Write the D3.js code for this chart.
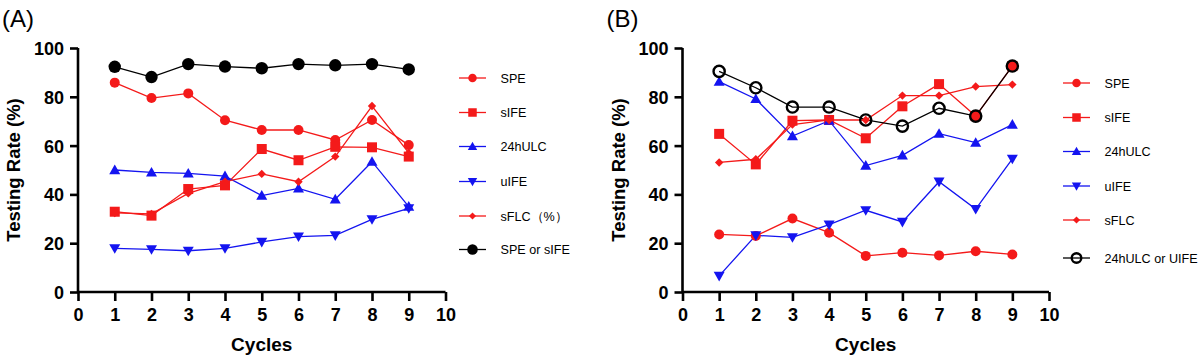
<!DOCTYPE html>
<html><head><meta charset="utf-8">
<script src="https://cdn.jsdelivr.net/npm/d3@7"></script>
<style>body{margin:0;background:#fff}svg{display:block}text{font-family:"Liberation Sans",Arial,sans-serif}</style>
</head><body>
<svg id="c" width="1201" height="359"></svg>
<script>
const cycles = [1,2,3,4,5,6,7,8,9];
const xTicks = [0,1,2,3,4,5,6,7,8,9,10];
const yTicks = [0,20,40,60,80,100];

// Panel A
const A_SPE      = [85.8,79.5,81.4,70.4,66.4,66.4,62.3,70.5,60.2];
const A_sIFE     = [32.9,31.3,42.2,43.7,58.6,54.0,59.5,59.3,55.5];
const A_24hULC   = [50.0,49.0,48.6,47.5,39.5,42.5,38.0,53.4,35.0];
const A_uIFE     = [17.9,17.5,16.9,17.9,20.5,22.7,23.2,29.8,34.3];
const A_sFLC     = [32.4,32.0,40.4,45.2,48.4,45.2,55.5,76.2,57.0];
const A_SPEorsIFE= [92.3,88.1,93.4,92.4,91.7,93.4,92.9,93.4,91.2];

// Panel B
const B_SPE      = [23.6,23.0,30.1,24.3,14.8,16.1,15.0,16.7,15.4];
const B_sIFE     = [64.8,52.3,70.2,70.5,63.0,76.1,85.2,72.1,92.6];
const B_24hULC   = [86.2,79.1,63.9,70.2,51.8,56.0,64.9,61.2,68.6];
const B_uIFE     = [6.6,23.2,22.4,27.6,33.5,28.7,45.2,34.0,54.6];
const B_sFLC     = [53.1,54.4,68.6,70.5,70.5,80.5,80.5,84.2,85.0];
const B_24orUIFE = [90.4,83.7,75.8,75.8,70.5,68.0,75.3,72.1,92.6];

const RED="#f41a1a", BLUE="#1414f0", BLACK="#000";

const svg=d3.select("#c");

function panel(cfg){
  const g=svg.append("g");
  const x=d3.scaleLinear().domain([0,10]).range([cfg.x0,cfg.x1]);
  const y=d3.scaleLinear().domain([0,100]).range([292,48]);
  const ya=g.append("g").attr("transform",`translate(${cfg.x0},0)`)
    .call(d3.axisLeft(y).tickValues(yTicks).tickSize(8).tickPadding(6));
  const xa=g.append("g").attr("transform",`translate(0,292)`)
    .call(d3.axisBottom(x).tickValues(xTicks).tickSize(9).tickPadding(6));
  [ya,xa].forEach(a=>{
    a.select(".domain").attr("stroke","#000").attr("stroke-width",2.6)
      .attr("d", a===ya ? `M0,${y(100)}V${y(0)}` : `M${x(0)},0H${x(10)}`);
    a.selectAll(".tick line").attr("stroke","#000").attr("stroke-width",2.6);
    a.selectAll(".tick text").attr("fill","#000").attr("font-size",18).attr("font-weight","bold")
      .attr("font-family","'Liberation Sans',Arial,sans-serif");
  });
  ya.selectAll(".tick text").attr("dy","0.36em");
  xa.selectAll(".tick text").attr("dy","0.8em");
  g.append("text").attr("x",(cfg.x0+cfg.x1)/2).attr("y",351).attr("text-anchor","middle")
    .attr("font-size",19).attr("font-weight","bold").text("Cycles");
  g.append("text").attr("transform",`translate(${cfg.x0-58},170) rotate(-90)`).attr("text-anchor","middle")
    .attr("font-size",18.5).attr("font-weight","bold").text("Testing Rate (%)");
  g.append("text").attr("x",cfg.x0-76).attr("y",27).attr("font-size",24).text(cfg.label);

  const line=d3.line().x((d,i)=>x(cycles[i])).y(d=>y(d));
  cfg.series.forEach(s=>{
    g.append("path").attr("d",line(s.v)).attr("fill","none").attr("stroke",s.c).attr("stroke-width",1.3);
  });
  cfg.series.forEach(s=>{
    s.v.forEach((d,i)=>marker(g,x(cycles[i]),y(d),s));
  });
  cfg.series.forEach((s,i)=>{
    const ly=cfg.legY[i];
    g.append("line").attr("x1",cfg.lx).attr("x2",cfg.lx+27).attr("y1",ly).attr("y2",ly)
      .attr("stroke",s.c).attr("stroke-width",1.3);
    marker(g,cfg.lx+13.5,ly,s,true);
    g.append("text").attr("x",cfg.lx+41.5).attr("y",ly+4.5).attr("font-size",12.6).text(s.name);
  });
}

function marker(g,cx,cy,s,leg){
  const sc = leg ? 0.85 : 1;
  if(s.m==="circle"){
    g.append("circle").attr("cx",cx).attr("cy",cy).attr("r",s.r*sc).attr("fill",s.c);
  } else if(s.m==="open"){
    g.append("circle").attr("cx",cx).attr("cy",cy).attr("r",5.6*sc).attr("fill","none")
      .attr("stroke",s.c).attr("stroke-width",2.4);
  } else if(s.m==="square"){
    const h=5*sc;
    g.append("rect").attr("x",cx-h).attr("y",cy-h).attr("width",2*h).attr("height",2*h).attr("fill",s.c);
  } else if(s.m==="up"){
    const h=5.5*sc;
    g.append("path").attr("d",`M${cx},${cy-h}L${cx+h},${cy+h*0.75}L${cx-h},${cy+h*0.75}Z`).attr("fill",s.c);
  } else if(s.m==="down"){
    const h=5.5*sc;
    g.append("path").attr("d",`M${cx},${cy+h}L${cx+h},${cy-h*0.75}L${cx-h},${cy-h*0.75}Z`).attr("fill",s.c);
  } else if(s.m==="diamond"){
    const h=4.2*sc;
    g.append("path").attr("d",`M${cx},${cy-h}L${cx+h},${cy}L${cx},${cy+h}L${cx-h},${cy}Z`).attr("fill",s.c);
  }
}

panel({x0:78,x1:445.5,label:"(A)",lx:459,
  legY:[78,112.5,146.5,181.5,216,249.5],
  series:[
    {name:"SPE",v:A_SPE,c:RED,m:"circle",r:5},
    {name:"sIFE",v:A_sIFE,c:RED,m:"square"},
    {name:"24hULC",v:A_24hULC,c:BLUE,m:"up"},
    {name:"uIFE",v:A_uIFE,c:BLUE,m:"down"},
    {name:"sFLC（%）",v:A_sFLC,c:RED,m:"diamond"},
    {name:"SPE or sIFE",v:A_SPEorsIFE,c:BLACK,m:"circle",r:6.2}
  ]});

panel({x0:682.5,x1:1049,label:"(B)",lx:1063,
  legY:[83,117.5,151.5,186,220,258],
  series:[
    {name:"SPE",v:B_SPE,c:RED,m:"circle",r:5},
    {name:"sIFE",v:B_sIFE,c:RED,m:"square"},
    {name:"24hULC",v:B_24hULC,c:BLUE,m:"up"},
    {name:"uIFE",v:B_uIFE,c:BLUE,m:"down"},
    {name:"sFLC",v:B_sFLC,c:RED,m:"diamond"},
    {name:"24hULC or UIFE",v:B_24orUIFE,c:BLACK,m:"open"}
  ]});
</script>
</body></html>
